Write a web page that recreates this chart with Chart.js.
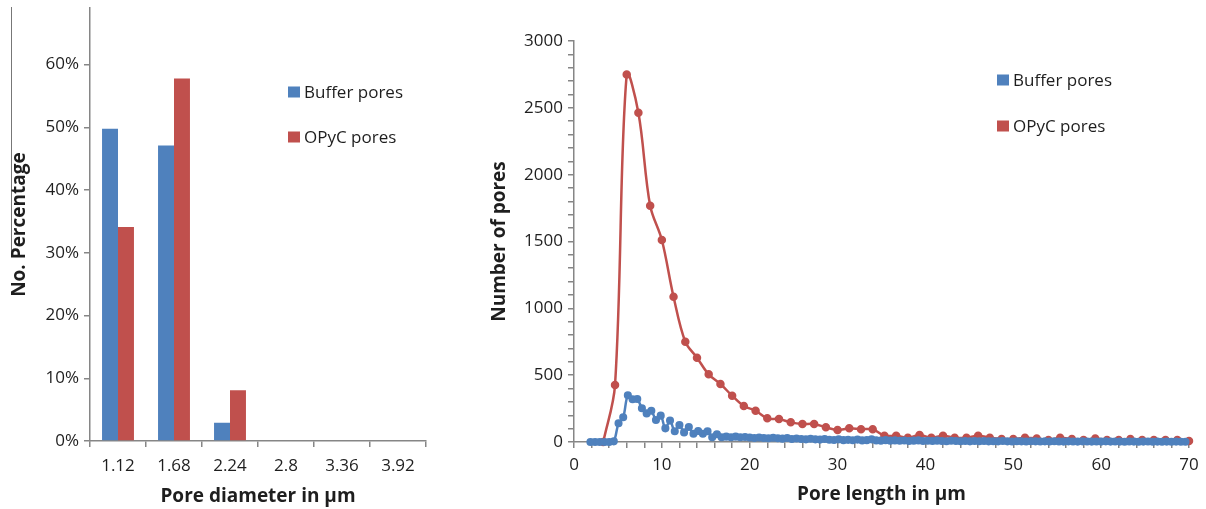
<!DOCTYPE html>
<html>
<head>
<meta charset="utf-8">
<script src="https://cdn.jsdelivr.net/npm/chart.js@4.4.1/dist/chart.umd.min.js"></script>
<style>
  body { margin: 0; background: #fff; overflow: hidden; }
  #wrap { position: relative; width: 1206px; height: 509px; overflow: hidden; }
  #diamChart { position: absolute; left: 0; top: -7px; }
  #lengthChart { position: absolute; left: 450px; top: 0; }
  .edge { position: absolute; left: 11px; top: 7px; width: 0; height: 250px; border-left: 1.5px solid #777; }
</style>
</head>
<body>
<div id="wrap">
  <div class="edge"></div>
  <canvas id="diamChart" width="450" height="516"></canvas>
  <canvas id="lengthChart" width="756" height="509"></canvas>
</div>
<script>
// pore diameter histogram (percent of pores per bin)
const diameterBins = ["1.12", "1.68", "2.24", "2.8", "3.36", "3.92"];
const bufferPct = [49.8, 47.1, 2.9, 0, 0, 0];
const opycPct = [34.1, 57.8, 8.1, 0, 0, 0];

// pore length distribution (count of pores)
const opycLength = [3.33, 4.67, 6.00, 7.33, 8.67, 10.00, 11.33, 12.67, 14.00, 15.33, 16.67, 18.00, 19.33, 20.67, 22.00, 23.33, 24.67, 26.00, 27.33, 28.67, 30.00, 31.33, 32.67, 34.00, 35.33, 36.67, 38.00, 39.33, 40.67, 42.00, 43.33, 44.67, 46.00, 47.33, 48.67, 50.00, 51.33, 52.67, 54.00, 55.33, 56.67, 58.00, 59.33, 60.67, 62.00, 63.33, 64.67, 66.00, 67.33, 68.67, 70.00];
const opycCount = [0, 426, 2750, 2463, 1768, 1511, 1087, 750, 631, 506, 434, 346, 269, 234, 177, 172, 147, 135, 135, 110, 90, 102, 95, 95, 47, 47, 32, 52, 32, 47, 32, 32, 47, 32, 22, 22, 32, 27, 15, 32, 22, 15, 27, 15, 15, 22, 15, 15, 15, 15, 7];

const bufferLength = [1.87, 2.40, 2.93, 3.47, 4.00, 4.53, 5.07, 5.60, 6.13, 6.67, 7.20, 7.73, 8.27, 8.80, 9.33, 9.87, 10.40, 10.93, 11.47, 12.00, 12.53, 13.07, 13.60, 14.13, 14.67, 15.20, 15.73, 16.27, 16.80, 17.33, 17.87, 18.40, 18.93, 19.47, 20.00, 20.53, 21.07, 21.60, 22.13, 22.67, 23.20, 23.73, 24.27, 24.80, 25.33, 25.87, 26.40, 26.93, 27.47, 28.00, 28.53, 29.07, 29.60, 30.13, 30.67, 31.20, 31.73, 32.27, 32.80, 33.33, 33.87, 34.40, 34.93, 35.47, 36.00, 36.53, 37.07, 37.60, 38.13, 38.67, 39.20, 39.73, 40.27, 40.80, 41.33, 41.87, 42.40, 42.93, 43.47, 44.00, 44.53, 45.07, 45.60, 46.13, 46.67, 47.20, 47.73, 48.27, 48.80, 49.33, 49.87, 50.40, 50.93, 51.47, 52.00, 52.53, 53.07, 53.60, 54.13, 54.67, 55.20, 55.73, 56.27, 56.80, 57.33, 57.87, 58.40, 58.93, 59.47, 60.00, 60.53, 61.07, 61.60, 62.13, 62.67, 63.20, 63.73, 64.27, 64.80, 65.33, 65.87, 66.40, 66.93, 67.47, 68.00, 68.53, 69.07, 69.60];
const bufferCount = [0, 0, 0, 0, 0, 5, 140, 185, 350, 320, 322, 252, 214, 234, 165, 197, 102, 160, 80, 127, 72, 112, 62, 82, 62, 80, 36, 58, 36, 40, 36, 40, 35, 37, 34, 30, 34, 30, 28, 32, 28, 25, 30, 22, 26, 22, 20, 24, 20, 18, 22, 17, 15, 20, 14, 16, 13, 18, 12, 14, 20, 12, 10, 14, 10, 12, 9, 11, 8, 10, 12, 8, 9, 7, 10, 8, 6, 9, 7, 6, 8, 5, 7, 6, 8, 5, 6, 5, 7, 5, 4, 6, 5, 4, 6, 5, 4, 5, 4, 6, 4, 3, 5, 4, 3, 5, 4, 3, 4, 3, 5, 3, 4, 3, 2, 4, 3, 2, 3, 4, 2, 3, 2, 3, 2, 3, 2, 2];

const BLUE = "#4f81bd";
const RED = "#c0504d";
const AXIS = "#868686";
const TEXT = "#1e1e1e";
const FONT = "'Open Sans', 'Liberation Sans', sans-serif";

Chart.defaults.font.family = FONT;
Chart.defaults.color = TEXT;

const toPoints = (xs, ys) => xs.map((x, i) => ({ x: x, y: ys[i] }));

// square swatch legend stacked inside the plot
const sideLegend = {
  id: "sideLegend",
  afterDraw(chart, args, opts) {
    const ctx = chart.ctx;
    ctx.save();
    ctx.font = "17px " + FONT;
    ctx.textBaseline = "middle";
    chart.data.datasets.forEach((ds, i) => {
      const y = opts.y + i * opts.gap;
      ctx.fillStyle = ds.borderColor;
      ctx.fillRect(opts.x, y - 5.5, 12, 11);
      ctx.fillStyle = TEXT;
      ctx.fillText(ds.label, opts.x + 16, y + 1);
    });
    ctx.restore();
  }
};

const axisGrid = { drawOnChartArea: false, color: AXIS, tickLength: 6, lineWidth: 1.5 };
const axisBorder = { color: AXIS, width: 1.5 };
const titleFont = { size: 19, weight: "bold" };
const tickFont = { size: 17 };

new Chart(document.getElementById("diamChart"), {
  type: "bar",
  data: {
    labels: diameterBins,
    datasets: [
      { label: "Buffer pores", data: bufferPct, backgroundColor: BLUE, borderColor: BLUE },
      { label: "OPyC pores", data: opycPct, backgroundColor: RED, borderColor: RED }
    ]
  },
  options: {
    responsive: false,
    animation: false,
    layout: { padding: { left: 0, right: 24, top: 0, bottom: 0 } },
    plugins: {
      legend: { display: false },
      tooltip: { enabled: false },
      sideLegend: { x: 288, y: 99, gap: 45 }
    },
    datasets: { bar: { categoryPercentage: 0.57, barPercentage: 1 } },
    scales: {
      x: {
        grid: axisGrid,
        border: axisBorder,
        ticks: { font: tickFont, padding: 9, maxRotation: 0 },
        title: { display: true, text: "Pore diameter in µm", font: titleFont, padding: { top: 0, bottom: 1 } },
        afterFit: (s) => { s.height = 68; }
      },
      y: {
        min: 0,
        max: 69,
        grid: axisGrid,
        border: axisBorder,
        ticks: { stepSize: 10, font: tickFont, padding: 5, callback: (v) => v + "%" },
        afterBuildTicks: (s) => { s.ticks = s.ticks.filter((t) => t.value % 10 === 0); },
        title: { display: true, text: "No. Percentage", font: titleFont, padding: { top: 8, bottom: 0 } },
        afterFit: (s) => { s.width = 90; }
      }
    }
  },
  plugins: [sideLegend]
});

new Chart(document.getElementById("lengthChart"), {
  type: "line",
  data: {
    datasets: [
      {
        label: "Buffer pores",
        data: toPoints(bufferLength, bufferCount),
        borderColor: BLUE,
        backgroundColor: BLUE,
        borderWidth: 2.5,
        pointRadius: 2.8,
        tension: 0.35,
        clip: false
      },
      {
        label: "OPyC pores",
        data: toPoints(opycLength, opycCount),
        borderColor: RED,
        backgroundColor: RED,
        borderWidth: 2.5,
        pointRadius: 3,
        tension: 0.35,
        clip: false
      }
    ]
  },
  options: {
    responsive: false,
    animation: false,
    layout: { padding: { left: 0, right: 17, top: 41, bottom: 0 } },
    plugins: {
      legend: { display: false },
      tooltip: { enabled: false },
      sideLegend: { x: 547, y: 80, gap: 46 }
    },
    scales: {
      x: {
        type: "linear",
        min: 0,
        max: 70,
        grid: axisGrid,
        border: axisBorder,
        ticks: { stepSize: 2, autoSkip: false, maxRotation: 0, font: tickFont, padding: 7,
          callback: (v) => (v % 10 === 0 ? v : "") },
        title: { display: true, text: "Pore length in µm", font: titleFont, padding: { top: 0, bottom: 3 } },
        afterFit: (s) => { s.height = 67; }
      },
      y: {
        min: 0,
        max: 3000,
        grid: axisGrid,
        border: axisBorder,
        ticks: { stepSize: 100, autoSkip: false, font: tickFont, padding: 5,
          callback: (v) => (v % 500 === 0 ? v : "") },
        title: { display: true, text: "Number of pores", font: titleFont, padding: { top: 38, bottom: 0 } },
        afterFit: (s) => { s.width = 124; }
      }
    }
  },
  plugins: [sideLegend]
});
</script>
</body>
</html>
